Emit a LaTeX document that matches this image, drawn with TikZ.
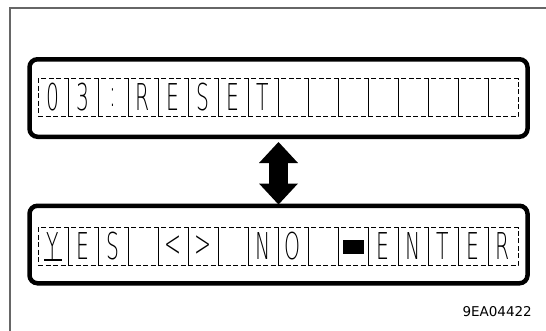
\documentclass[tikz,border=0pt]{standalone}
\usepackage{fontspec}
\usepackage{graphicx}
\usetikzlibrary{arrows.meta}
\newfontfamily\lcdfont{DejaVu Sans ExtraLight}
\newfontfamily\codefont{DejaVu Sans}
\newcommand\narrow[1]{\scalebox{0.55}[1]{#1}}
\tikzset{
  panel/.style={draw, line width=4.5pt, rounded corners=8pt,
    minimum width=498pt, minimum height=77.5pt, inner sep=0pt},
  cell/.style={draw, line width=0.8pt, dash pattern=on 5pt off 2.5pt,
    minimum width=30pt, minimum height=38pt, inner sep=0pt,
    font=\lcdfont\fontsize{37}{37}\selectfont},
}
\begin{document}
\begin{tikzpicture}[x=1pt, y=-1pt]
  \useasboundingbox (0,0) rectangle (546,330);
  \clip (0,0) rectangle (546,330);

  % Rahmen
  \draw[line width=1.5pt, draw=black!60] (10,8) rectangle (560,345);

  % Anzeigefelder
  \node[panel] (top) at (278.5,98) {};
  \node[panel] (bot) at (278.5,244.5) {};

  % obere Zeile: 03:RESET
  \foreach \c [count=\i from 0] in {0,3,:,R,E,S,E,T,{},{},{},{},{},{},{},{}}
    \node[cell] (t\i) at (53+30*\i, 97.5) {\narrow{\c}};

  % untere Zeile: YES <> NO ENTER
  \foreach \c [count=\i from 0] in {Y,E,S,{},<,>,{},N,O,{},{},E,N,T,E,R}
    \node[cell] (b\i) at (53+30*\i, 246.5) {\narrow{\c}};

  % Cursor und Block
  \draw[line width=2.5pt] ([shift={(-9pt,6pt)}]b0.south) -- ([shift={(9pt,6pt)}]b0.south);
  \node[fill, minimum width=21pt, minimum height=14pt, inner sep=0pt] (blk)
    at (b10.center) {};

  % Doppelpfeil
  \draw[line width=19pt,
    {Triangle[length=21pt,width=39pt,line width=0pt]}-{Triangle[length=21pt,width=39pt,line width=0pt]}]
    ([yshift=-3pt]top.south) -- ([yshift=-1pt]bot.north);

  % Kennung
  \node[font=\codefont\fontsize{13.5}{13.5}\selectfont, anchor=east, inner sep=0pt]
    (code) at (532,312) {9EA04422};
\end{tikzpicture}
\end{document}
